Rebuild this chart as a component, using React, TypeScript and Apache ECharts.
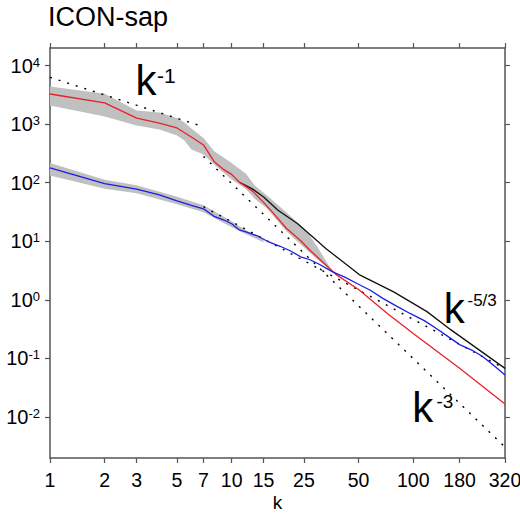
import React, { useEffect, useRef } from "react";
import * as echarts from "echarts";

// ---- data ----
const kRed = [1, 2, 3, 4, 5, 6, 7, 8, 9, 10, 11, 13, 15, 17, 20, 24, 27, 38, 50, 72, 100, 180, 320];
const redValues = [3270, 2310, 1270, 1040, 861, 604, 441, 231, 169, 139, 103, 72.6, 46.2, 30, 16.7, 10.2, 7.03, 2.64, 1.5, 0.586, 0.267, 0.0677, 0.0167];

// black total line (hidden under the red one below k = 11)
const kBlack = [11, 13, 15, 18, 23, 28, 33, 40, 51, 78, 119, 160, 320];
const blackValues = [103, 78.5, 56.9, 33.8, 20.1, 11.8, 7.5, 4.75, 2.64, 1.37, 0.63, 0.313, 0.0676];

const kBlue = [1, 2, 3, 4, 5, 6, 7, 8, 9, 10, 11, 12, 14, 16, 18.5, 21, 24, 27, 30, 36, 42, 49, 58, 68, 80, 96, 115, 134, 160, 180, 210, 242, 280, 320];
const blueValues = [179, 96.4, 77.6, 62.1, 49.0, 41.1, 35.8, 26.7, 23.3, 19.9, 15.7, 14.5, 12.2, 9.73, 8.22, 6.89, 5.44, 4.84, 4.14, 3.0, 2.44, 1.9, 1.46, 1.06, 0.796, 0.586, 0.442, 0.325, 0.222, 0.172, 0.139, 0.107, 0.0741, 0.052];

const kRedBand = [1, 2, 3, 4, 5, 5.5, 6, 7, 8, 10, 12, 13.4, 15.6, 20, 26, 30, 35];
const redBandLow = [2080, 1350, 949, 811, 641, 527, 370, 304, 205, 114, 78, 53.1, 36.6, 14.8, 7.03, 4.75, 3.2];
const redBandHigh = [4400, 3300, 1710, 1580, 1275, 1067, 843, 581, 349, 218, 142, 90, 61, 31.2, 14.8, 7.6, 3.47];

const kBlueBand = [1, 2, 3, 5, 7, 10, 12, 15];
const blueBandLow = [133, 78.5, 65.8, 42.8, 31.2, 17.3, 13.2, 9.6];
const blueBandHigh = [218, 112, 90.2, 57.4, 41.1, 21.9, 15.4, 10.8];

// reference slopes k^-1, k^-5/3, k^-3 (end points)
const refK1 = [1, 7];
const refV1 = [6300, 900];
const refK53 = [7, 320];
const refV53 = [39, 0.0667];
const refK3 = [7, 320];
const refV3 = [281, 0.00307];

const xTickLabels = [1, 2, 3, 5, 7, 10, 15, 25, 50, 100, 180, 320];
const yTickExponents = [-2, -1, 0, 1, 2, 3, 4];
const xRange = [1, 320];
const yLogRange = [-2.7, 4.3];

const FONT = "'Liberation Sans', Arial, Helvetica, sans-serif";
const AXIS_COLOR = "#555";

const lg = Math.log10;
const toPts = (ks: number[], vs: number[]) => ks.map((k, i) => [lg(k), lg(vs[i])]);

function bandSeries(ks: number[], lo: number[], hi: number[]) {
  const data = ks.map((k, i) => [lg(k), lg(lo[i]), lg(hi[i])]);
  return {
    type: "custom",
    silent: true,
    clip: true,
    data,
    encode: { x: 0, y: [1, 2] },
    renderItem: (params: any, api: any) => {
      if (params.dataIndex !== 0) return null;
      const top = data.map((d) => api.coord([d[0], d[2]]));
      const bottom = data.map((d) => api.coord([d[0], d[1]])).reverse();
      return {
        type: "polygon",
        shape: { points: top.concat(bottom) },
        style: { fill: "#c0c0c0", stroke: null },
      };
    },
  };
}

function lineSeries(ks: number[], vs: number[], color: string, width: number, dashed = false) {
  return {
    type: "line",
    silent: true,
    showSymbol: false,
    symbol: "none",
    clip: true,
    data: toPts(ks, vs),
    lineStyle: dashed
      ? { color, width, type: [2, 7] }
      : { color, width },
  };
}

function txt(text: string, x: number, y: number, fontSize: number, align = "left") {
  return {
    type: "text",
    x,
    y,
    silent: true,
    style: {
      text,
      fontSize,
      fontFamily: FONT,
      fill: "#000",
      align,
      verticalAlign: "middle",
      textAlign: align,
      textVerticalAlign: "middle",
    },
  };
}

export default function App() {
  const ref = useRef<HTMLDivElement>(null);
  useEffect(() => {
    if (!ref.current) return;
    const chart = echarts.init(ref.current, undefined, { renderer: "svg" });
    const xTicks = xTickLabels.map(lg);
    const xCommon = {
      type: "value",
      min: lg(xRange[0]),
      max: lg(xRange[1]),
      splitLine: { show: false },
      axisLine: { show: true, onZero: false, lineStyle: { color: AXIS_COLOR, width: 1.5 } },
      axisTick: { show: true, customValues: xTicks, length: 5, lineStyle: { color: AXIS_COLOR, width: 1.2 } },
    };
    const yCommon = {
      type: "value",
      min: yLogRange[0],
      max: yLogRange[1],
      splitLine: { show: false },
      axisLine: { show: true, onZero: false, lineStyle: { color: AXIS_COLOR, width: 1.5 } },
      axisTick: { show: true, customValues: yTickExponents, length: 5, lineStyle: { color: AXIS_COLOR, width: 1.2 } },
    };
    chart.setOption({
      animation: false,
      backgroundColor: "#fff",
      grid: { left: 50, right: 15, top: 48, bottom: 55, containLabel: false, outerBoundsMode: "none" },
      xAxis: [
        {
          ...xCommon,
          position: "bottom",
          axisLabel: {
            customValues: xTicks,
            formatter: (v: number) => String(Math.round(Math.pow(10, v))),
            fontSize: 19.5,
            fontFamily: FONT,
            color: "#000",
            margin: 12,
          },
        },
        { ...xCommon, position: "top", axisLabel: { show: false } },
      ],
      yAxis: [
        {
          ...yCommon,
          position: "left",
          axisLabel: {
            customValues: yTickExponents,
            formatter: (v: number) => `{b|10}{s|${Math.round(v)}}`,
            margin: 10,
            rich: {
              b: { fontSize: 20, fontFamily: FONT, color: "#000", verticalAlign: "bottom" },
              s: { fontSize: 13, lineHeight: 12, fontFamily: FONT, color: "#000", verticalAlign: "top" },
            },
          },
        },
        { ...yCommon, position: "right", axisLabel: { show: false } },
      ],
      series: [
        bandSeries(kRedBand, redBandLow, redBandHigh),
        bandSeries(kBlueBand, blueBandLow, blueBandHigh),
        lineSeries(refK1, refV1, "#000", 1.4, true),
        lineSeries(refK53, refV53, "#000", 1.4, true),
        lineSeries(refK3, refV3, "#000", 1.4, true),
        lineSeries(kBlack, blackValues, "#111", 1.3),
        lineSeries(kRed, redValues, "#e8202a", 1.3),
        lineSeries(kBlue, blueValues, "#1c1ce6", 1.3),
      ],
      graphic: [
        txt("ICON-sap", 48, 16.7, 27),
        txt("k", 277.5, 502, 19, "center"),
        txt("k", 135.5, 80.5, 42),
        txt("-1", 157, 75.7, 21),
        txt("k", 443.7, 308.8, 42),
        txt("-5/3", 467.5, 300.8, 17),
        txt("k", 412.2, 407.2, 42),
        txt("-3", 436.5, 401.4, 19),
      ],
    } as any);
    return () => chart.dispose();
  }, []);
  return (
    <div
      ref={ref}
      style={{ position: "absolute", left: 0, top: 0, width: 520, height: 513, background: "#fff" }}
    />
  );
}
